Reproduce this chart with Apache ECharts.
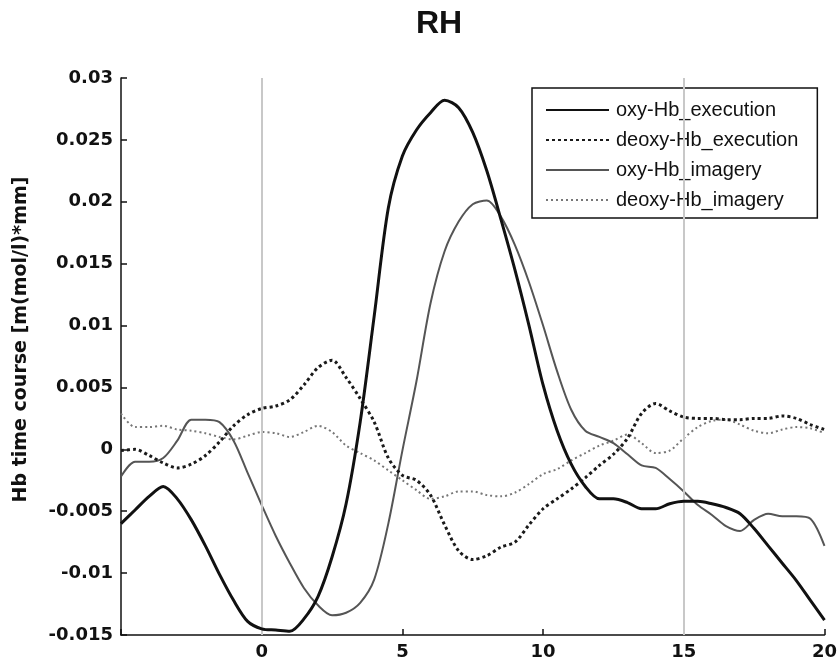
<!DOCTYPE html>
<html>
<head>
<meta charset="utf-8">
<title>RH</title>
<script src="https://cdn.jsdelivr.net/npm/echarts/dist/echarts.min.js"></script>
<style>
  html, body { margin: 0; padding: 0; background: #fff; }
  #chart { width: 840px; height: 663px; }
</style>
</head>
<body>
<div id="chart"></div>
<script>
// time axis (s)
var timeSec = [-5,-4.5,-4,-3.5,-3,-2.5,-2,-1.5,-1,-0.5,0,0.5,1,1.5,2,2.5,3,3.5,4,4.5,5,5.5,6,6.5,7,7.5,8,8.5,9,9.5,10,10.5,11,11.5,12,12.5,13,13.5,14,14.5,15,15.5,16,16.5,17,17.5,18,18.5,19,19.5,20];

var oxyExec = [-0.0060,-0.0049,-0.0038,-0.0030,-0.0040,-0.0057,-0.0078,-0.0101,-0.0122,-0.0139,-0.0145,-0.0146,-0.0147,-0.0137,-0.0119,-0.0087,-0.0044,0.0022,0.0108,0.0195,0.0237,0.0258,0.0272,0.0282,0.0276,0.0256,0.0225,0.0186,0.0145,0.0100,0.0052,0.0015,-0.0012,-0.0030,-0.0040,-0.0040,-0.0043,-0.0048,-0.0048,-0.0044,-0.0042,-0.0042,-0.0044,-0.0047,-0.0052,-0.0064,-0.0078,-0.0092,-0.0106,-0.0122,-0.0138];

var deoxyExec = [-0.0001,0.0000,-0.0005,-0.0011,-0.0015,-0.0012,-0.0005,0.0006,0.0019,0.0028,0.0033,0.0035,0.0040,0.0052,0.0066,0.0072,0.0058,0.0041,0.0022,-0.0007,-0.0021,-0.0025,-0.0037,-0.0061,-0.0082,-0.0089,-0.0086,-0.0079,-0.0075,-0.0061,-0.0048,-0.0040,-0.0032,-0.0023,-0.0013,-0.0004,0.0009,0.0029,0.0037,0.0031,0.0026,0.0025,0.0025,0.0024,0.0024,0.0025,0.0025,0.0027,0.0025,0.0020,0.0016];

var oxyImag = [-0.0022,-0.0010,-0.0010,-0.0007,0.0007,0.0024,0.0024,0.0022,0.0007,-0.0019,-0.0045,-0.0070,-0.0092,-0.0112,-0.0126,-0.0134,-0.0132,-0.0124,-0.0105,-0.0060,-0.0001,0.0055,0.0118,0.0160,0.0184,0.0198,0.0201,0.0188,0.0165,0.0135,0.0100,0.0063,0.0032,0.0015,0.0010,0.0005,-0.0004,-0.0013,-0.0015,-0.0024,-0.0034,-0.0045,-0.0053,-0.0062,-0.0066,-0.0057,-0.0052,-0.0054,-0.0054,-0.0056,-0.0078];

var deoxyImag = [0.0029,0.0018,0.0018,0.0019,0.0016,0.0015,0.0013,0.0010,0.0008,0.0011,0.0014,0.0013,0.0010,0.0014,0.0019,0.0014,0.0003,-0.0003,-0.0009,-0.0017,-0.0025,-0.0033,-0.0040,-0.0038,-0.0034,-0.0034,-0.0037,-0.0038,-0.0035,-0.0028,-0.0020,-0.0016,-0.0009,-0.0003,0.0003,0.0007,0.0012,0.0005,-0.0003,-0.0001,0.0009,0.0018,0.0023,0.0024,0.0020,0.0015,0.0013,0.0016,0.0018,0.0017,0.0013];

var seriesNames = ['oxy-Hb_execution', 'deoxy-Hb_execution', 'oxy-Hb_imagery', 'deoxy-Hb_imagery'];
var markerTimes = [0, 15]; // gray vertical lines (task onset / end)

function pairs(ys) {
  var out = [];
  for (var i = 0; i < timeSec.length; i++) out.push([timeSec[i], ys[i]]);
  return out;
}

var chart = echarts.init(document.getElementById('chart'), null, { renderer: 'canvas' });

var tickFont = { fontFamily: 'DejaVu Sans', fontSize: 18, fontWeight: 'bold', color: '#111' };

var option = {
  animation: false,
  backgroundColor: '#fff',
  title: {
    text: 'RH',
    left: 434,
    top: 3,
    textAlign: 'center',
    textStyle: { fontFamily: 'Liberation Sans, Arial', fontSize: 32, fontWeight: 'bold', color: '#111' }
  },
  legend: {
    data: seriesNames,
    orient: 'vertical',
    left: 532,
    top: 88,
    padding: [12, 19, 8, 13],
    itemWidth: 63,
    itemHeight: 20,
    itemGap: 10,
    backgroundColor: '#fff',
    borderColor: '#111',
    borderWidth: 1.5,
    borderRadius: 0,
    itemStyle: { opacity: 0, borderWidth: 0 },
    textStyle: { fontFamily: 'Liberation Sans, Arial', fontSize: 20, color: '#111', padding: [0, 0, 0, 2] }
  },
  grid: { left: 121, right: 13, top: 78, bottom: 28, containLabel: false },
  xAxis: {
    type: 'value',
    min: -5,
    max: 20,
    interval: 5,
    axisLine: { onZero: false, lineStyle: { color: '#111', width: 1.5 } },
    axisTick: { inside: true, length: 6, lineStyle: { color: '#111', width: 1.5 } },
    axisLabel: Object.assign({ margin: 8, formatter: function (v) { return v === -5 ? '' : String(v); } }, tickFont),
    splitLine: { show: false }
  },
  yAxis: {
    type: 'value',
    min: -0.015,
    max: 0.03,
    interval: 0.005,
    name: 'Hb time course [m(mol/l)*mm]',
    nameLocation: 'middle',
    nameGap: 90,
    nameTextStyle: { fontFamily: 'DejaVu Sans', fontSize: 19, fontWeight: 'bold', color: '#111', padding: [0, 0, 0, 34] },
    axisLine: { show: true, onZero: false, lineStyle: { color: '#111', width: 1.5 } },
    axisTick: { show: true, inside: true, length: 6, lineStyle: { color: '#111', width: 1.5 } },
    axisLabel: Object.assign({ margin: 8, formatter: function (v) { return String(+v.toFixed(3)); } }, tickFont),
    splitLine: { show: false }
  },
  series: [
    {
      name: 'markers',
      type: 'line',
      data: [],
      z: 1,
      markLine: {
        silent: true,
        symbol: 'none',
        label: { show: false },
        lineStyle: { color: '#c8c8c8', width: 2, type: 'solid' },
        data: markerTimes.map(function (t) { return { xAxis: t }; })
      }
    },
    {
      name: seriesNames[0], type: 'line', data: pairs(oxyExec), smooth: 0.3, symbol: 'none', z: 5,
      lineStyle: { color: '#111', width: 3 }, itemStyle: { color: '#111' }
    },
    {
      name: seriesNames[1], type: 'line', data: pairs(deoxyExec), smooth: 0.3, symbol: 'none', z: 4,
      lineStyle: { color: '#1a1a1a', width: 3, type: [3, 3] }, itemStyle: { color: '#1a1a1a' }
    },
    {
      name: seriesNames[2], type: 'line', data: pairs(oxyImag), smooth: 0.3, symbol: 'none', z: 3,
      lineStyle: { color: '#555', width: 2 }, itemStyle: { color: '#555' }
    },
    {
      name: seriesNames[3], type: 'line', data: pairs(deoxyImag), smooth: 0.3, symbol: 'none', z: 2,
      lineStyle: { color: '#777', width: 2, type: [2, 3] }, itemStyle: { color: '#777' }
    }
  ]
};

chart.setOption(option);
</script>
</body>
</html>
